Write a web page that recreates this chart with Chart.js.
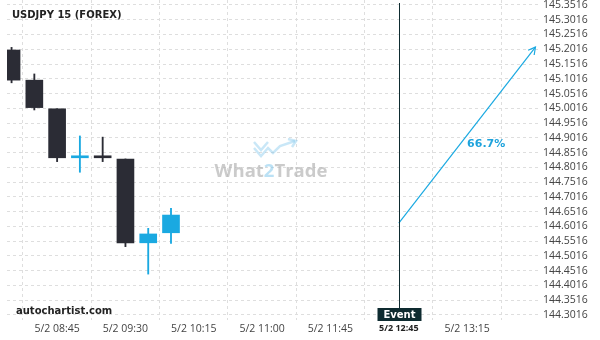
<!DOCTYPE html>
<html>
<head>
<meta charset="utf-8">
<script src="https://cdn.jsdelivr.net/npm/chart.js@4/dist/chart.umd.min.js"></script>
<style>
    html, body { margin: 0; padding: 0; background: #fff; }
    #wrap { width: 600px; height: 340px; }
</style>
</head>
<body>
<div id="wrap"><canvas id="chart" width="600" height="340"></canvas></div>
<script>
// 15 minute candles, 5/2
const candleTimes = ["08:15", "08:30", "08:45", "09:00", "09:15", "09:30", "09:45", "10:00"];
const opens  = [145.199, 145.097, 145.000, 144.834, 144.838, 144.830, 144.546, 144.580];
const highs  = [145.208, 145.118, 145.000, 144.908, 144.904, 144.830, 144.595, 144.663];
const lows   = [145.088, 144.996, 144.821, 144.785, 144.821, 144.533, 144.440, 144.544];
const closes = [145.097, 145.004, 144.834, 144.838, 144.834, 144.546, 144.576, 144.640];

// x ticks (candle slot index) and their labels
const xTickSlots = [2, 5, 8, 11, 14, 17, 20];
const xTickLabels = ["5/2 08:45", "5/2 09:30", "5/2 10:15", "5/2 11:00", "5/2 11:45", "5/2 12:45", "5/2 13:15"];

const yTicks = [
    144.3016, 144.3516, 144.4016, 144.4516, 144.5016, 144.5516, 144.6016, 144.6516,
    144.7016, 144.7516, 144.8016, 144.8516, 144.9016, 144.9516, 145.0016, 145.0516,
    145.1016, 145.1516, 145.2016, 145.2516, 145.3016, 145.3516
];

// event + forecast arrow
const eventSlot = 17;
const eventLabel = "Event";
const arrowSlots = [17, 23];
const arrowPrices = [144.613, 145.209];
const arrowText = "66.7%";

const DARK = "#2b2c35";
const BLUE = "#1aa9e1";
const EVENT_COL = "#0e2b30";
const GRID = "#dedede";

function candleColor(i) {
    return closes[i] >= opens[i] ? BLUE : DARK;
}

const decor = {
    id: "decor",
    beforeDatasetsDraw(chart) {
        const { ctx } = chart;
        const cx = 271, cy = 172;
        ctx.save();
        // watermark logo
        ctx.strokeStyle = "rgba(120,195,235,0.4)";
        ctx.lineWidth = 2.5;
        ctx.beginPath();
        ctx.moveTo(cx - 17, cy - 24);
        ctx.lineTo(cx - 10, cy - 16);
        ctx.lineTo(cx - 3, cy - 24);
        ctx.lineTo(cx + 2, cy - 19);
        ctx.lineTo(cx + 9, cy - 26);
        ctx.lineTo(cx + 24, cy - 31);
        ctx.stroke();
        ctx.beginPath();
        ctx.moveTo(cx - 17, cy - 30);
        ctx.lineTo(cx - 10, cy - 22);
        ctx.lineTo(cx - 3, cy - 30);
        ctx.stroke();
        ctx.beginPath();
        ctx.moveTo(cx + 17, cy - 33);
        ctx.lineTo(cx + 25, cy - 31);
        ctx.lineTo(cx + 21, cy - 25);
        ctx.stroke();
        // watermark text
        ctx.font = "bold 18.5px 'Open Sans'";
        ctx.textBaseline = "middle";
        const parts = [["What", "rgba(175,175,175,0.65)"], ["2", "rgba(120,195,235,0.5)"], ["Trade", "rgba(175,175,175,0.65)"]];
        const total = parts.reduce((s, p) => s + ctx.measureText(p[0]).width, 0);
        let x = cx - total / 2;
        parts.forEach(([t, c]) => {
            ctx.fillStyle = c;
            ctx.fillText(t, x, cy);
            x += ctx.measureText(t).width;
        });
        ctx.restore();
    },
    afterDatasetsDraw(chart) {
        const { ctx } = chart;
        const xs = chart.scales.x, ys = chart.scales.y;
        ctx.save();

        // event line + box
        const ex = Math.round(xs.getPixelForValue(eventSlot)) + 0.5;
        ctx.strokeStyle = EVENT_COL;
        ctx.lineWidth = 1;
        ctx.beginPath();
        ctx.moveTo(ex, 3);
        ctx.lineTo(ex, 308);
        ctx.stroke();
        ctx.fillStyle = EVENT_COL;
        ctx.fillRect(ex - 22, 308, 44, 13);
        ctx.fillStyle = "#fff";
        ctx.font = "bold 10px 'DejaVu Sans'";
        ctx.textAlign = "center";
        ctx.textBaseline = "middle";
        ctx.fillText(eventLabel, ex, 315);

        // arrow head
        const meta = chart.getDatasetMeta(2);
        const p0 = meta.data[0], p1 = meta.data[1];
        const ang = Math.atan2(p1.y - p0.y, p1.x - p0.x);
        const L = 8;
        ctx.strokeStyle = BLUE;
        ctx.lineWidth = 1.2;
        ctx.beginPath();
        ctx.moveTo(p1.x - L * Math.cos(ang - 0.5), p1.y - L * Math.sin(ang - 0.5));
        ctx.lineTo(p1.x, p1.y);
        ctx.lineTo(p1.x - L * Math.cos(ang + 0.5), p1.y - L * Math.sin(ang + 0.5));
        ctx.stroke();

        // probability label
        ctx.fillStyle = "#1ea3dc";
        ctx.font = "bold 11px 'DejaVu Sans'";
        ctx.textAlign = "left";
        ctx.fillText(arrowText, xs.getPixelForValue(20), ys.getPixelForValue(144.881));
        ctx.restore();
    },
    afterDraw(chart) {
        const { ctx } = chart;
        ctx.save();
        ctx.fillStyle = "#222";
        ctx.font = "bold 10px 'DejaVu Sans'";
        ctx.textBaseline = "middle";
        ctx.fillText("USDJPY 15 (FOREX)", 12, 15);
        ctx.fillText("autochartist.com", 16, 311);
        ctx.restore();
    }
};

const idx = opens.map((_, i) => i);

new Chart(document.getElementById("chart").getContext("2d"), {
    type: "bar",
    data: {
        datasets: [
            {
                label: "wick",
                data: idx.map(i => ({ x: i, y: [lows[i], highs[i]] })),
                backgroundColor: ctx => candleColor(ctx.dataIndex),
                barThickness: 1.2,
                grouped: false,
                order: 3
            },
            {
                label: "body",
                data: idx.map(i => ({ x: i, y: [opens[i], closes[i]] })),
                backgroundColor: ctx => candleColor(ctx.dataIndex),
                barThickness: 17,
                minBarLength: 2,
                grouped: false,
                order: 2
            },
            {
                type: "line",
                label: "forecast",
                data: arrowSlots.map((s, i) => ({ x: s, y: arrowPrices[i] })),
                borderColor: BLUE,
                borderWidth: 1.2,
                pointRadius: 0,
                order: 1
            }
        ]
    },
    options: {
        responsive: false,
        animation: false,
        layout: { padding: { left: 7, top: 0, right: 0, bottom: 0 } },
        plugins: { legend: { display: false }, tooltip: { enabled: false } },
        scales: {
            x: {
                type: "linear",
                min: -0.2,
                max: 23.2,
                offset: false,
                afterBuildTicks: s => { s.ticks = xTickSlots.map(v => ({ value: v })); },
                afterFit: s => { s.height = 20; s.paddingLeft = 0; s.paddingRight = 0; },
                grid: { color: GRID, drawTicks: false },
                border: { display: false, dash: [3, 3] },
                ticks: {
                    padding: 3,
                    maxRotation: 0,
                    autoSkip: false,
                    color: ctx => (xTickSlots[ctx.index] === eventSlot ? "#222" : "#444"),
                    font: ctx => (xTickSlots[ctx.index] === eventSlot
                        ? { family: "'Open Sans'", size: 9, weight: "bold" }
                        : { family: "'Open Sans'", size: 10.5 }),
                    callback: (v) => xTickLabels[xTickSlots.indexOf(v)]
                }
            },
            y: {
                position: "right",
                min: 144.2845,
                max: 145.3685,
                afterBuildTicks: s => { s.ticks = yTicks.map(v => ({ value: v })); },
                afterFit: s => { s.width = 60; s.paddingTop = 0; s.paddingBottom = 0; },
                grid: { color: GRID, drawTicks: false },
                border: { display: false, dash: [3, 3] },
                ticks: {
                    padding: 3,
                    autoSkip: false,
                    color: "#444",
                    font: { family: "'Open Sans'", size: 10.5 },
                    callback: v => v.toFixed(4)
                }
            }
        }
    },
    plugins: [decor]
});
</script>
</body>
</html>
